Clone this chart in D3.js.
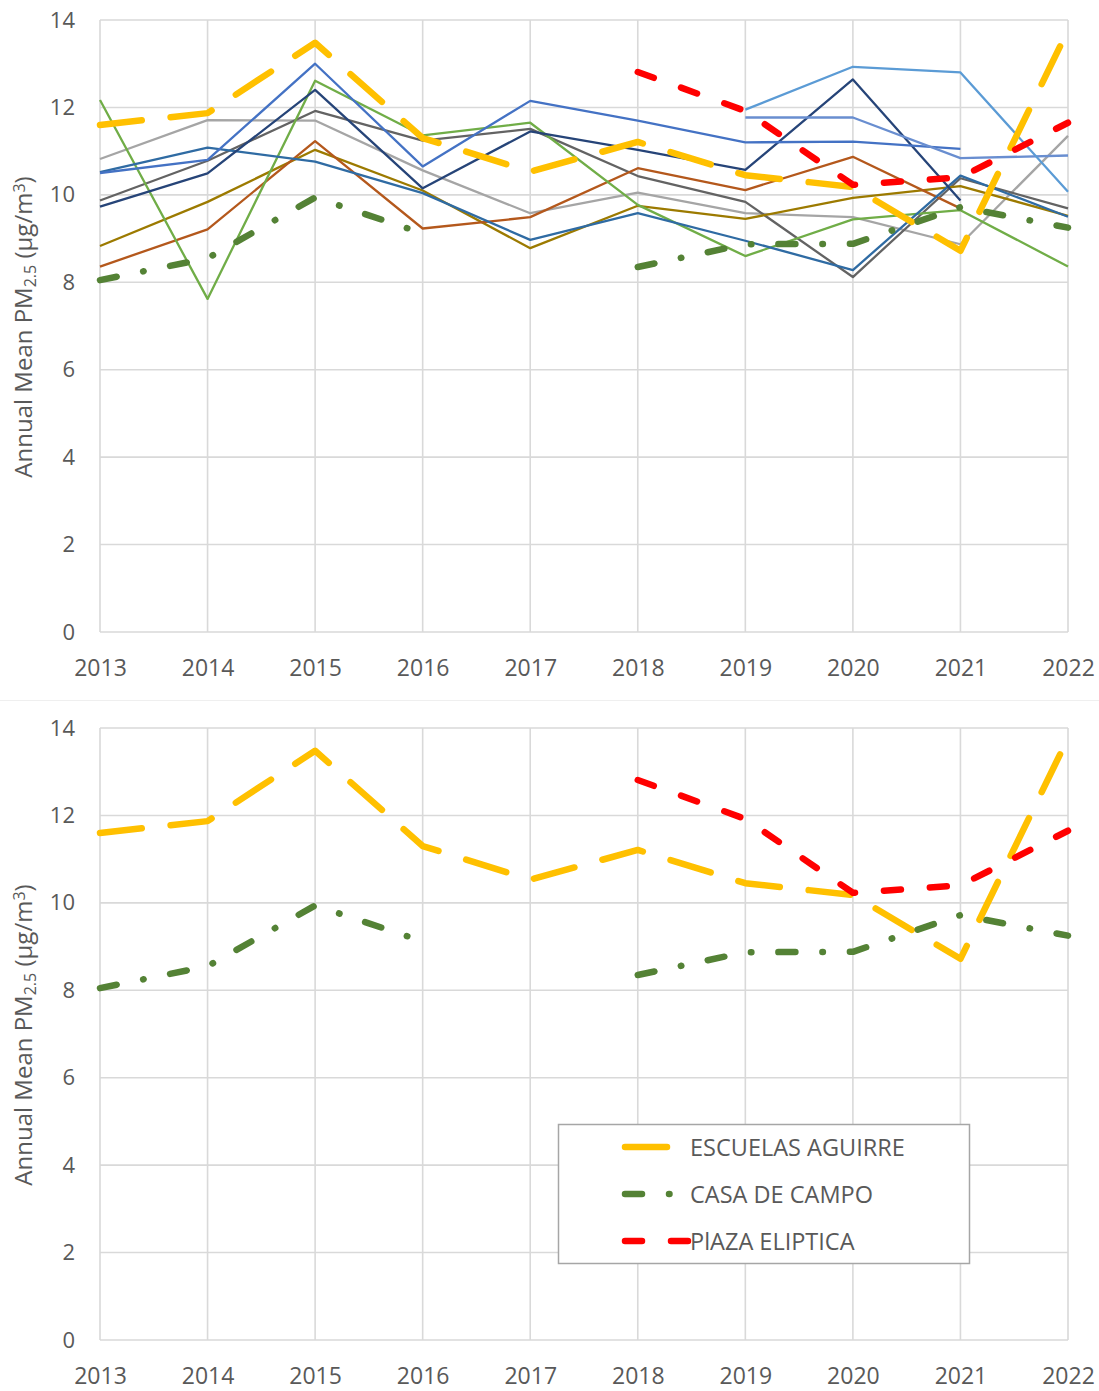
<!DOCTYPE html>
<html>
<head>
<meta charset="utf-8">
<script src="https://cdn.jsdelivr.net/npm/d3@7"></script>
<style>
  body { margin: 0; background: #fff; }
  svg { display: block; font-family: "Open Sans", "Noto Sans", sans-serif; }
</style>
</head>
<body>
<svg id="chart" width="1099" height="1391"></svg>
<script>
'use strict';

// years on the x axis and y ticks
var years = [2013, 2014, 2015, 2016, 2017, 2018, 2019, 2020, 2021, 2022];
var yTicks = [0, 2, 4, 6, 8, 10, 12, 14];

// highlighted stations (thick lines)
var escuelasAguirre = [11.6, 11.87, 13.48, 11.3, 10.53, 11.21, 10.45, 10.18, 8.72, 13.77];
var casaDeCampo     = [8.05, 8.55, 9.94, 9.12, null, 8.35, 8.87, 8.88, 9.72, 9.25];
var plazaEliptica   = [null, null, null, null, null, 12.81, 11.92, 10.23, 10.4, 11.65];

// the other stations (thin lines, top panel only)
var stationA = [10.5, 10.8, 13.0, 10.65, 12.15, 11.7, 11.2, 11.22, 11.05, null];
var stationB = [null, null, null, null, null, null, 11.95, 12.93, 12.8, 10.07];
var stationC = [null, null, null, null, null, null, 11.77, 11.77, 10.84, 10.9];
var stationD = [9.73, 10.49, 12.4, 10.15, 11.45, 11.03, 10.57, 12.64, 9.87, null];
var stationE = [10.52, 11.08, 10.76, 10.04, 8.97, 9.58, 8.95, 8.28, 10.44, 9.5];
var stationF = [12.17, 7.62, 12.61, 11.36, 11.65, 9.77, 8.6, 9.44, 9.65, 8.36];
var stationG = [10.82, 11.71, 11.7, 10.56, 9.58, 10.05, 9.58, 9.49, 8.87, 11.35];
var stationH = [9.87, 10.78, 11.92, 11.24, 11.51, 10.43, 9.84, 8.12, 10.38, 9.69];
var stationI = [8.36, 9.21, 11.23, 9.23, 9.49, 10.61, 10.11, 10.87, 9.69, null];
var stationJ = [8.83, 9.84, 11.03, 10.1, 8.78, 9.75, 9.45, 9.93, 10.2, 9.52];

var thin = [
  { values: stationG, color: "#a5a5a5" },
  { values: stationH, color: "#636363" },
  { values: stationJ, color: "#9c7a00" },
  { values: stationI, color: "#b4581c" },
  { values: stationF, color: "#70ad47" },
  { values: stationE, color: "#2f6ba3" },
  { values: stationD, color: "#264478" },
  { values: stationA, color: "#4472c4" },
  { values: stationC, color: "#698ed0" },
  { values: stationB, color: "#5b9bd5" }
];

var thick = [
  { name: "ESCUELAS AGUIRRE", values: escuelasAguirre, color: "#ffc000", dash: "42,29" },
  { name: "CASA DE CAMPO", values: casaDeCampo, color: "#548235", dash: "17,27,0.5,27" },
  { name: "PlAZA ELIPTICA", values: plazaEliptica, color: "#ff0000", dash: "17,29" }
];

var svg = d3.select("#chart");

var x = d3.scalePoint().domain(years).range([100, 1068]);

// faint split between the two pictures
svg.append("line")
  .attr("x1", 0).attr("x2", 1099)
  .attr("y1", 700.5).attr("y2", 700.5)
  .attr("stroke", "#efefef").attr("stroke-width", 1);

function drawPanel(top, bottom, showThin, showLegend) {
  var y = d3.scaleLinear().domain([0, 14]).range([bottom, top]);
  var g = svg.append("g");

  // grid
  g.append("g").selectAll("line.h")
    .data(yTicks)
    .enter().append("line")
      .attr("x1", x(years[0])).attr("x2", x(years[years.length - 1]))
      .attr("y1", function(d) { return y(d); })
      .attr("y2", function(d) { return y(d); })
      .attr("stroke", "#d9d9d9").attr("stroke-width", 1.6);

  g.append("g").selectAll("line.v")
    .data(years)
    .enter().append("line")
      .attr("x1", function(d) { return x(d); })
      .attr("x2", function(d) { return x(d); })
      .attr("y1", y(0)).attr("y2", y(14))
      .attr("stroke", "#d9d9d9").attr("stroke-width", 1.6);

  // axes (labels only, Excel style)
  var xAxis = g.append("g")
    .attr("transform", "translate(0," + y(0) + ")")
    .call(d3.axisBottom(x).tickSize(0).tickPadding(28).tickFormat(d3.format("d")));
  xAxis.select(".domain").remove();
  xAxis.selectAll("text")
    .attr("fill", "#595959")
    .style("font-size", "23px")
    .style("font-family", "'Open Sans', sans-serif");

  var yAxis = g.append("g")
    .attr("transform", "translate(" + x(years[0]) + ",0)")
    .call(d3.axisLeft(y).tickValues(yTicks).tickSize(0).tickPadding(25));
  yAxis.select(".domain").remove();
  yAxis.selectAll("text")
    .attr("fill", "#595959")
    .style("font-size", "22px")
    .style("font-family", "'Open Sans', sans-serif");

  // y title
  var title = g.append("text")
    .attr("transform", "translate(32," + ((top + bottom) / 2 + 1) + ") rotate(-90)")
    .attr("text-anchor", "middle")
    .attr("fill", "#595959")
    .style("font-size", "24px");
  title.append("tspan").text("Annual Mean PM");
  title.append("tspan").attr("baseline-shift", "-25%").style("font-size", "16px").text("2.5");
  title.append("tspan").text(" (µg/m");
  title.append("tspan").attr("baseline-shift", "45%").style("font-size", "16px").text("3");
  title.append("tspan").text(")");

  var line = d3.line()
    .defined(function(d) { return d != null; })
    .x(function(d, i) { return x(years[i]); })
    .y(function(d) { return y(d); });

  if (showThin) {
    g.append("g").selectAll("path")
      .data(thin)
      .enter().append("path")
        .attr("d", function(d) { return line(d.values); })
        .attr("fill", "none")
        .attr("stroke", function(d) { return d.color; })
        .attr("stroke-width", 2.3)
        .attr("stroke-linejoin", "round");
  }

  g.append("g").selectAll("path")
    .data(thick)
    .enter().append("path")
      .attr("d", function(d) { return line(d.values); })
      .attr("fill", "none")
      .attr("stroke", function(d) { return d.color; })
      .attr("stroke-width", 6.5)
      .attr("stroke-linecap", "round")
      .attr("stroke-linejoin", "round")
      .attr("stroke-dasharray", function(d) { return d.dash; });

  if (showLegend) {
    var lg = g.append("g");
    lg.append("rect")
      .attr("x", 558.5).attr("y", 1124.5)
      .attr("width", 411).attr("height", 139)
      .attr("fill", "#fff")
      .attr("stroke", "#a6a6a6").attr("stroke-width", 1.5);

    var item = lg.selectAll("g.item")
      .data(thick)
      .enter().append("g")
        .attr("transform", function(d, i) { return "translate(0," + (1147 + i * 47) + ")"; });

    item.append("line")
      .attr("x1", 625).attr("x2", 688)
      .attr("y1", 0).attr("y2", 0)
      .attr("stroke", function(d) { return d.color; })
      .attr("stroke-width", 6.5)
      .attr("stroke-linecap", "round")
      .attr("stroke-dasharray", function(d) { return d.dash; });

    item.append("text")
      .attr("x", 690).attr("y", 9)
      .attr("fill", "#595959")
      .style("font-size", "23.5px")
      .text(function(d) { return d.name; });
  }
}

drawPanel(20, 632, true, false);
drawPanel(728, 1340, false, true);
</script>
</body>
</html>
